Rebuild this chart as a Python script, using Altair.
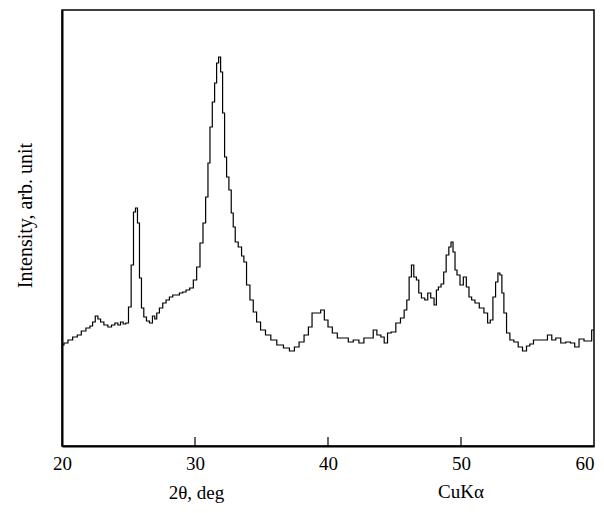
import altair as alt
import pandas as pd

two_theta = [
    20.0, 20.3, 20.6, 21.0, 21.3, 21.6, 22.0, 22.2, 22.4, 22.6,
    22.8, 23.0, 23.3, 23.6, 23.85, 24.1, 24.3, 24.5, 24.7, 24.9,
    25.1, 25.3, 25.45, 25.6, 25.75, 25.9, 26.05, 26.25, 26.45, 26.7,
    26.9, 27.05, 27.2, 27.45, 27.7, 27.95, 28.2, 28.45, 28.7, 28.95,
    29.2, 29.45, 29.75, 30.0, 30.25, 30.5, 30.7, 30.9, 31.05, 31.2,
    31.4, 31.55, 31.7, 31.85, 32.0, 32.15, 32.3, 32.45, 32.65, 32.8,
    32.95, 33.1, 33.4, 33.6, 33.75, 34.0, 34.26, 34.5, 34.76, 35.1,
    35.5, 35.9, 36.4, 36.9, 37.3, 37.65, 38.0, 38.4, 38.65, 38.95,
    39.3, 39.6, 39.85, 40.15, 40.5, 40.9, 41.4, 41.65, 42.15, 42.5,
    42.9, 43.3, 43.5, 43.85, 44.1, 44.35, 44.6, 44.9, 45.3, 45.6,
    45.85, 46.0, 46.2, 46.35, 46.55, 46.75, 46.9, 47.15, 47.4, 47.6,
    47.85, 48.1, 48.2, 48.4, 48.6, 48.8, 48.97, 49.2, 49.3, 49.5,
    49.6, 49.8, 50.05, 50.3, 50.5, 50.7, 50.9, 51.2, 51.55, 51.9,
    52.1, 52.3, 52.5, 52.7, 52.85, 53.0, 53.15, 53.3, 53.55, 53.8,
    54.15, 54.45, 54.8, 55.05, 55.3, 55.6, 55.95, 56.3, 56.7, 56.95,
    57.3, 57.7, 58.05, 58.4, 58.7, 59.05, 59.45, 59.75, 59.9, 60.0,
]

intensity = [
    101, 103, 106, 109, 111, 115, 118, 120, 124, 130,
    127, 124, 121, 119, 121, 123, 121, 124, 122, 123,
    139, 181, 234, 238, 223, 168, 138, 129, 125, 123,
    130, 127, 133, 138, 143, 146, 149, 151, 151, 153,
    154, 156, 158, 166, 179, 203, 223, 249, 283, 319,
    344, 363, 383, 389, 374, 333, 289, 269, 256, 233,
    219, 204, 199, 190, 184, 161, 146, 134, 124, 116,
    111, 106, 101, 98, 95, 99, 104, 111, 119, 133,
    133, 136, 126, 119, 113, 108, 108, 104, 106, 103,
    108, 108, 116, 111, 109, 103, 113, 114, 123, 128,
    136, 146, 169, 181, 169, 166, 153, 148, 146, 153,
    148, 141, 156, 159, 162, 174, 191, 199, 204, 194,
    176, 171, 161, 169, 159, 149, 146, 143, 138, 133,
    123, 126, 149, 164, 173, 171, 153, 133, 113, 106,
    104, 99, 95, 100, 102, 106, 106, 106, 111, 106,
    108, 103, 104, 103, 99, 107, 105, 105, 116, 116,
]

x_tick_labels = [20, 30, 40, 50, 60]
inner_ticks = [30, 40, 50]

FONT = "Liberation Serif"
FS = 19

df = pd.DataFrame({"two_theta": two_theta, "intensity": intensity})
ticks_df = pd.DataFrame({"t": inner_ticks, "y0": [0] * 3, "y1": [9] * 3})

xscale = alt.Scale(domain=[20, 60], nice=False, zero=False)
yscale = alt.Scale(domain=[0, 436], nice=False, zero=False)

line = alt.Chart(df).mark_line(
    interpolate="step", color="black", strokeWidth=1.2, clip=True
).encode(
    x=alt.X(
        "two_theta:Q",
        scale=xscale,
        axis=alt.Axis(
            values=x_tick_labels,
            ticks=False,
            grid=False,
            domainColor="black",
            domainWidth=2,
            labelFont=FONT,
            labelFontSize=FS,
            labelColor="black",
            labelPadding=8,
            labelAlign=alt.expr("datum.value == 60 ? 'right' : 'center'"),
            labelFlush=False,
            labelBound=False,
            labelOverlap=False,
            title="2θ, deg",
            titleFont=FONT,
            titleFontSize=FS,
            titleFontWeight="normal",
            titleColor="black",
            titleX=134,
            titleY=46,
            titleAlign="center",
            titleBaseline="middle",
        ),
    ),
    y=alt.Y(
        "intensity:Q",
        scale=yscale,
        axis=alt.Axis(
            labels=False,
            ticks=False,
            grid=False,
            domainColor="black",
            domainWidth=2,
            title="Intensity, arb. unit",
            titleFont=FONT,
            titleFontSize=20,
            titleFontWeight="normal",
            titleColor="black",
            titleX=-37,
            titleY=205,
            titleAlign="center",
            titleBaseline="middle",
        ),
    ),
)

tick_rules = alt.Chart(ticks_df).mark_rule(color="black", strokeWidth=1.2).encode(
    x=alt.X("t:Q", scale=xscale),
    y=alt.Y("y0:Q", scale=yscale),
    y2="y1:Q",
)

cuka = alt.Chart(pd.DataFrame({"label": ["CuKα"]})).mark_text(
    font=FONT, fontSize=FS, color="black", align="center", baseline="middle"
).encode(
    x=alt.datum(50, scale=xscale),
    y=alt.value(482),
    text="label:N",
)

chart = alt.layer(line, tick_rules, cuka).properties(
    width=532,
    height=436,
    autosize=alt.AutoSizeParams(type="none"),
    padding={"left": 54, "top": 2, "right": 2, "bottom": 59},
).configure_view(stroke="black", strokeWidth=1.5)

chart.save("out.html", embed_options={"renderer": "svg", "actions": False})
